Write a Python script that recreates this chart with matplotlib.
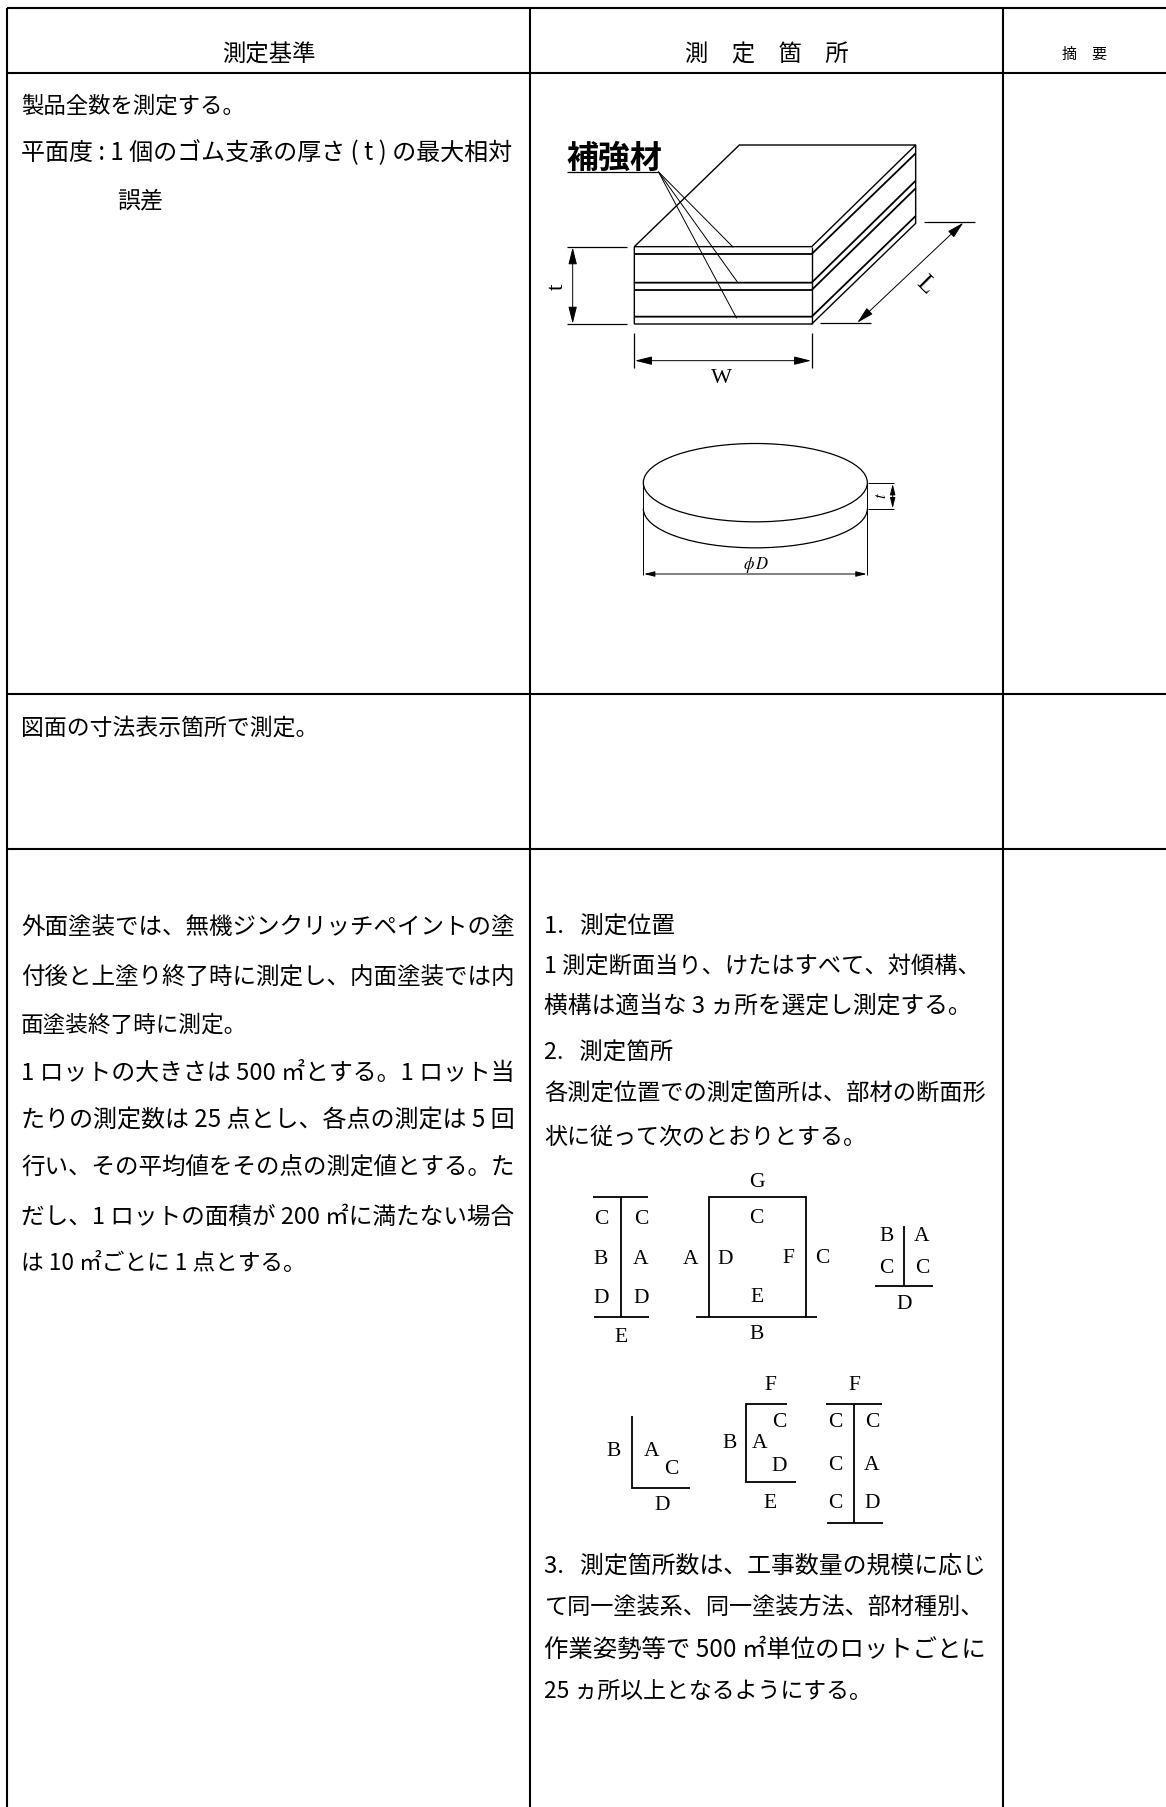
import matplotlib
matplotlib.use('Agg')
import matplotlib.pyplot as plt
from matplotlib.patches import Ellipse, Arc

plt.rcParams['font.family'] = ['Noto Sans CJK JP', 'DejaVu Sans']

W, H = 1166, 1807

# table grid, page pixels
grid_x = [7, 530, 1003]
grid_top = 8
grid_rows = [8, 73, 694, 849]

# header text: label, x centre, y centre, size
headers = [('測定基準', 269, 55, 16.8),
           ('測　定　箇　所', 767, 55, 16.8),
           ('摘　要', 1085, 55, 10.8)]

# body lines: text, x, y, right edge
left_lines = [
    ('製品全数を測定する。', 21, 105, 245),
    ('平面度 : 1 個のゴム支承の厚さ ( t ) の最大相対', 21, 152, 513),
    ('誤差', 117, 199, 163),
    ('図面の寸法表示箇所で測定。', 21, 727, 318),
    ('外面塗装では、無機ジンクリッチペイントの塗', 21, 926, 515),
    ('付後と上塗り終了時に測定し、内面塗装では内', 21, 976, 515),
    ('面塗装終了時に測定。', 21, 1024, 247),
    ('1 ロットの大きさは 500 ㎡とする。1 ロット当', 21, 1072, 515),
    ('たりの測定数は 25 点とし、各点の測定は 5 回', 21, 1120, 515),
    ('行い、その平均値をその点の測定値とする。た', 21, 1167, 515),
    ('だし、1 ロットの面積が 200 ㎡に満たない場合', 21, 1216, 515),
    ('は 10 ㎡ごとに 1 点とする。', 21, 1262, 306),
]
right_lines = [
    ('1.   測定位置', 544, 925, 675),
    ('1 測定断面当り、けたはすべて、対傾構、', 544, 965, 980),
    ('横構は適当な 3 ヵ所を選定し測定する。', 544, 1005, 972),
    ('2.   測定箇所', 544, 1052, 673),
    ('各測定位置での測定箇所は、部材の断面形', 544, 1093, 986),
    ('状に従って次のとおりとする。', 544, 1136, 866),
    ('3.   測定箇所数は、工事数量の規模に応じ', 544, 1565, 986),
    ('て同一塗装系、同一塗装方法、部材種別、', 544, 1607, 984),
    ('作業姿勢等で 500 ㎡単位のロットごとに', 544, 1649, 986),
    ('25 ヵ所以上となるようにする。', 544, 1691, 872),
]

# box drawing, coordinates in 3x crop at (520, 110)
box_origin = (520, 110)
box_outline = [(343, 410), (658, 105), (1187, 105), (1187, 340), (875, 642),
               (343, 642), (343, 410), (875, 410), (1187, 105)]
box_front_right = [(875, 410), (875, 642)]
layer_left = [432, 518, 540, 620]
layer_right = [130, 212, 235, 318]
leader_ends = [(640, 412), (655, 520), (650, 625)]
box_ext = [[(140, 410), (320, 410)], [(140, 643), (320, 643)],
           [(343, 668), (343, 775)], [(875, 668), (875, 775)],
           [(1212, 335), (1365, 335)], [(900, 638), (1052, 638)],
           [(140, 185), (415, 185)]]
box_dims = [((158, 412), (158, 641)), ((345, 752), (873, 752)),
            ((1330, 338), (1012, 638))]

# disc drawing, same crop
disc_cx, disc_cy, disc_w, disc_h, disc_t = 706, 1118, 672, 235, 78
disc_ext = [[(370, 1118), (370, 1395)], [(1042, 1118), (1042, 1395)],
            [(1045, 1120), (1122, 1120)], [(1045, 1197), (1122, 1197)]]
disc_dims = [((1118, 1122), (1118, 1195)), ((372, 1392), (1040, 1392))]

# section shapes, coordinates in 3x crop at (530, 1120)
sec_origin = (530, 1120)
sec_lines = [
    [(190, 230), (355, 230)], [(272, 230), (272, 590)], [(192, 590), (356, 590)],
    [(498, 590), (862, 590)], [(536, 590), (536, 230), (828, 230), (828, 590)],
    [(1122, 318), (1122, 497)], [(1036, 497), (1208, 497)],
    [(306, 888), (306, 1104), (480, 1104)],
    [(770, 852), (648, 852), (648, 1086), (797, 1086)],
    [(888, 852), (1057, 852)], [(972, 852), (972, 1208)], [(890, 1208), (1058, 1208)],
]
sec_letters = [
    ('C', 213, 300), ('C', 333, 300), ('B', 213, 417), ('A', 333, 417),
    ('D', 213, 535), ('D', 333, 535), ('E', 272, 652),
    ('G', 680, 187), ('C', 680, 295), ('A', 483, 417), ('D', 585, 417),
    ('F', 776, 415), ('C', 877, 415), ('E', 680, 533), ('B', 680, 643),
    ('B', 1070, 350), ('A', 1176, 350), ('C', 1070, 445), ('C', 1176, 445),
    ('D', 1122, 553),
    ('B', 251, 993), ('A', 364, 993), ('C', 425, 1050), ('D', 396, 1155),
    ('F', 720, 795), ('C', 749, 908), ('B', 600, 972), ('A', 689, 972),
    ('D', 749, 1040), ('E', 720, 1150),
    ('F', 972, 795), ('C', 917, 908), ('C', 1026, 908), ('C', 917, 1035),
    ('A', 1026, 1035), ('C', 917, 1152), ('D', 1026, 1152),
]


def from_crop(pt, origin):
    return origin[0] + pt[0] / 3, origin[1] + pt[1] / 3


def poly(pts, origin, lw=1.0):
    xy = [from_crop(p, origin) for p in pts]
    ax.plot([p[0] for p in xy], [p[1] for p in xy], color='black', lw=lw,
            solid_capstyle='butt', solid_joinstyle='miter')


def dim(a, b, origin, size=9):
    ax.annotate('', xy=from_crop(b, origin), xytext=from_crop(a, origin),
                arrowprops=dict(arrowstyle='<|-|>,head_length=0.8,head_width=0.2',
                                mutation_scale=size, color='black', lw=0.7,
                                shrinkA=0, shrinkB=0))


def put_line(text, x, y, right, size=16.2):
    # nudge the size so each line ends where the justified original ends
    # baseline alignment keeps lines steady whatever glyphs they hold
    t = ax.text(x, y + 8, text, fontsize=size, ha='left', va='baseline', color='black')
    box = t.get_window_extent(renderer)
    t.set_fontsize(size * (right - x) / box.width)
    return t


fig = plt.figure(figsize=(W / 100, H / 100), dpi=100)
ax = fig.add_axes([0, 0, 1, 1])
ax.set_xlim(0, W)
ax.set_ylim(H, 0)
ax.axis('off')
renderer = fig.canvas.get_renderer()

# table grid
for x in grid_x:
    ax.plot([x, x], [grid_top, H], color='black', lw=1.5, solid_capstyle='butt')
for y in grid_rows:
    ax.plot([grid_x[0], W], [y, y], color='black', lw=1.5, solid_capstyle='butt')

for label, x, y, size in headers:
    ax.text(x, y, label, fontsize=size, ha='center', va='center', color='black')
for text, x, y, right in left_lines + right_lines:
    put_line(text, x, y, right)

# box drawing
poly(box_outline, box_origin, lw=1.0)
poly(box_front_right, box_origin, lw=1.0)
for yl, yr in zip(layer_left, layer_right):
    poly([(343, yl), (875, yl), (1187, yr)], box_origin, lw=1.3)
for end in leader_ends:
    poly([(415, 185), end], box_origin, lw=0.7)
for seg in box_ext:
    poly(seg, box_origin, lw=0.9)
for a, b in box_dims:
    dim(a, b, box_origin, size=13)
ax.text(*from_crop((283, 145), box_origin), '補強材', fontsize=23, fontweight='bold',
        ha='center', va='center', color='black')
ax.text(*from_crop((112, 530), box_origin), 't', fontsize=17, rotation=90,
        family='Liberation Serif', ha='center', va='center')
ax.text(*from_crop((605, 805), box_origin), 'W', fontsize=16,
        family='Liberation Serif', ha='center', va='center')
ax.text(*from_crop((1215, 525), box_origin), 'L', fontsize=18, rotation=-45,
        family='Liberation Serif', ha='center', va='center')

# disc drawing
cx, cy = from_crop((disc_cx, disc_cy), box_origin)
ax.add_patch(Ellipse((cx, cy), disc_w / 3, disc_h / 3, fc='none', ec='black', lw=0.9))
ax.add_patch(Arc((cx, cy + disc_t / 3), disc_w / 3, disc_h / 3, theta1=0, theta2=180,
                 ec='black', lw=0.9))
for seg in disc_ext:
    poly(seg, box_origin, lw=0.7)
for a, b in disc_dims:
    dim(a, b, box_origin, size=8)
ax.text(*from_crop((708, 1365), box_origin), r'$\phi\,D$', fontsize=12,
        math_fontfamily='stix', ha='center', va='center')
ax.text(*from_crop((1085, 1157), box_origin), r'$t$', fontsize=12, rotation=90,
        math_fontfamily='stix', ha='center', va='center')

# section shapes
for pts in sec_lines:
    poly(pts, sec_origin, lw=1.3)
for letter, x, y in sec_letters:
    ax.text(*from_crop((x, y), sec_origin), letter, fontsize=15.5,
            family='Liberation Serif', ha='center', va='center', color='black')

fig.savefig('out.png', dpi=100, facecolor='white')
